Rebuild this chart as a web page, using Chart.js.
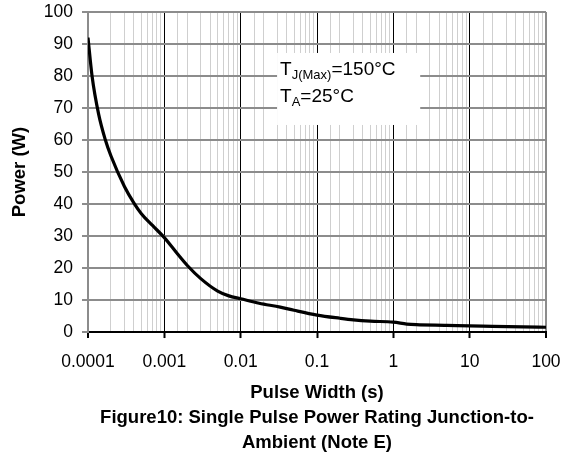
<!DOCTYPE html>
<html>
<head>
<meta charset="utf-8">
<script src="https://cdn.jsdelivr.net/npm/chart.js@4.4.1/dist/chart.umd.min.js"></script>
<style>
html,body{margin:0;padding:0;background:#fff;}
#wrap{width:565px;height:455px;position:relative;}
</style>
</head>
<body>
<div id="wrap"><canvas id="c"></canvas></div>
<script>
// Pulse width (s)
const pulseWidth = [0.0001, 0.000113, 0.000138, 0.000169, 0.0002, 0.0003, 0.0004, 0.0005, 0.0007, 0.001, 0.0015, 0.002, 0.003, 0.005, 0.007, 0.01, 0.0175, 0.033, 0.05, 0.1, 0.2, 0.3, 0.5, 1, 1.5, 2, 5, 10, 20, 50, 100];
// Power (W)
const powerW = [92, 80, 68, 60, 55, 45.5, 40.3, 37, 33.3, 29.5, 24.3, 20.8, 16.7, 12.8, 11.3, 10.4, 9, 7.8, 6.8, 5.3, 4.3, 3.8, 3.4, 3.1, 2.5, 2.3, 2.1, 1.9, 1.8, 1.6, 1.5];
const xTickLabels = ['0.0001', '0.001', '0.01', '0.1', '1', '10', '100'];
const yTickValues = [0, 10, 20, 30, 40, 50, 60, 70, 80, 90, 100];
const noteLines = [['T', 'J(Max)', '=150°C'], ['T', 'A', '=25°C']];

const FONT = "'Liberation Sans', Arial, sans-serif";
Chart.defaults.font.family = FONT;
Chart.defaults.color = '#000';

function decadeIndex(v) {
  const l = Math.log10(v);
  const r = Math.round(l);
  return Math.abs(l - r) < 1e-6 ? r : null;
}

const noteBox = {
  id: 'noteBox',
  beforeDatasetsDraw(chart) {
    const {ctx, scales: {x, y}} = chart;
    const left = x.getPixelForValue(0.03), right = x.getPixelForValue(2.25);
    const top = y.getPixelForValue(87.2), bottom = y.getPixelForValue(64.7);
    ctx.save();
    ctx.fillStyle = '#fff';
    ctx.fillRect(left, top, right - left, bottom - top);
    ctx.fillStyle = '#000';
    ctx.textBaseline = 'alphabetic';
    noteLines.forEach((parts, i) => {
      let px = left + 3;
      const base = top + 22 + i * 27;
      ctx.font = '19px ' + FONT;
      ctx.fillText(parts[0], px, base);
      px += ctx.measureText(parts[0]).width;
      ctx.font = '13px ' + FONT;
      ctx.fillText(parts[1], px, base + 4);
      px += ctx.measureText(parts[1]).width;
      ctx.font = '19px ' + FONT;
      ctx.fillText(parts[2], px, base);
    });
    ctx.restore();
  }
};

new Chart(document.getElementById('c'), {
  type: 'line',
  data: {
    datasets: [{
      data: pulseWidth.map((v, i) => ({x: v, y: powerW[i]})),
      borderColor: '#000',
      borderWidth: 3.2,
      pointRadius: 0,
      fill: false,
      cubicInterpolationMode: 'monotone'
    }]
  },
  options: {
    responsive: true,
    maintainAspectRatio: false,
    animation: false,
    layout: {padding: {top: 12, right: 19, left: 0, bottom: 0}},
    plugins: {
      legend: {display: false},
      tooltip: {enabled: false},
      title: {
        display: true,
        position: 'bottom',
        fullSize: false,
        text: ['Figure10: Single Pulse Power Rating Junction-to-', 'Ambient (Note E)'],
        font: {size: 18.5, weight: 'bold', lineHeight: 1.35},
        padding: {top: 0, bottom: 0},
        color: '#000'
      }
    },
    scales: {
      x: {
        type: 'logarithmic',
        min: 0.0001,
        max: 100,
        afterFit: (s) => { s.height = 73; s.paddingLeft = 0; s.paddingRight = 0; },
        border: {color: '#000', width: 2},
        grid: {
          color: (ctx) => {
            const v = ctx.tick && ctx.tick.value;
            if (v === undefined) return '#ccc';
            const d = decadeIndex(v);
            if (d === -4 || d === 2) return '#8c8c8c';
            return d !== null ? '#000' : '#cfcfcf';
          },
          lineWidth: (ctx) => {
            const v = ctx.tick && ctx.tick.value;
            const d = v === undefined ? null : decadeIndex(v);
            return (d === -4 || d === 2) ? 2 : 1;
          },
          tickColor: (ctx) => {
            const v = ctx.tick && ctx.tick.value;
            const d = v === undefined ? null : decadeIndex(v);
            return d !== null ? '#000' : 'rgba(0,0,0,0)';
          },
          tickWidth: 2,
          tickLength: 6,
          drawTicks: true
        },
        ticks: {
          autoSkip: false,
          maxRotation: 0,
          minRotation: 0,
          padding: 14,
          font: {size: 17.5},
          color: '#000',
          callback: (v) => {
            const d = decadeIndex(v);
            return d === null ? '' : xTickLabels[d + 4];
          }
        },
        title: {
          display: true,
          text: 'Pulse Width (s)',
          font: {size: 18.5, weight: 'bold'},
          padding: {top: 0, bottom: 1.5},
          color: '#000'
        }
      },
      y: {
        min: 0,
        max: 100,
        afterFit: (s) => { s.width = 88; s.paddingTop = 0; s.paddingBottom = 0; },
        afterBuildTicks: (s) => { s.ticks = yTickValues.map(v => ({value: v})); },
        border: {color: '#8c8c8c', width: 2},
        grid: {
          color: '#8c8c8c',
          lineWidth: 2,
          tickColor: '#8c8c8c',
          tickLength: 6,
          tickWidth: 2
        },
        ticks: {
          padding: 9,
          font: {size: 17.5},
          color: '#000'
        },
        title: {
          display: true,
          text: 'Power (W)',
          font: {size: 18.5, weight: 'bold'},
          padding: {top: 9, bottom: 0},
          color: '#000'
        }
      }
    }
  },
  plugins: [noteBox]
});
</script>
</body>
</html>
